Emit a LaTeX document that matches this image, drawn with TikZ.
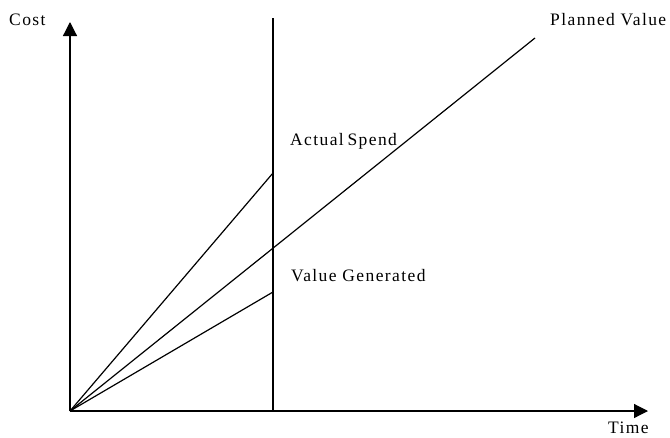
\documentclass[tikz,border=0pt]{standalone}
\usepackage{fontspec}
\setmainfont{Liberation Serif}[LetterSpace=8]
\usetikzlibrary{arrows.meta}
\begin{document}
\begin{tikzpicture}[x=1pt,y=-1pt,
  axis/.style={line width=1.2pt,-{Triangle[length=14pt,width=14pt]}},
  curve/.style={line width=1.2pt},
  lbl/.style={anchor=west,inner sep=0pt,font=\fontsize{17.5}{20}\selectfont}]
\useasboundingbox (0,0) rectangle (670,437);
\coordinate (O) at (70,411);
\coordinate (ytip) at (70,22);
\coordinate (xtip) at (648,411);
\coordinate (vtop) at (273,18);
\coordinate (vbot) at (273,411);
\coordinate (aend) at (273,173);
\coordinate (pend) at (535,38);
\coordinate (gend) at (273,292);
\draw[axis] (O) -- (ytip);
\draw[axis] (O) -- (xtip);
\draw[curve] (vtop) -- (vbot);
\draw[curve] (O) -- (aend);
\draw[curve] (O) -- (pend);
\draw[curve] (O) -- (gend);
\node[lbl] (cost) at (9,20) {Cost};
\node[lbl] (pv) at (550,20) {Planned Value};
\node[lbl] (time) at (608,428) {Time};
\node[lbl] (as) at (290,141) {Actual\hspace{-2pt} Spend};
\node[lbl] (vg) at (291,276) {Value Generated};
\end{tikzpicture}
\end{document}
